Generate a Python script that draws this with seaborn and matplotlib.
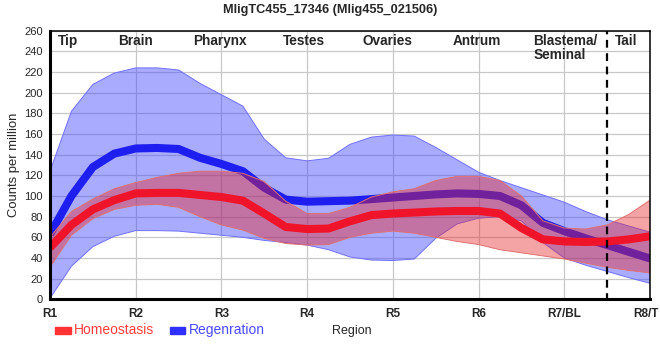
import numpy as np
import pandas as pd
import matplotlib
matplotlib.use("Agg")
import matplotlib.pyplot as plt
import matplotlib.transforms as mtransforms
from matplotlib.patches import Rectangle
import seaborn as sns

# ---- data ----
positions = [1.0, 1.25, 1.5, 1.75, 2.0, 2.25, 2.5, 2.75, 3.0, 3.25, 3.5, 3.75,
             4.0, 4.25, 4.5, 4.75, 5.0, 5.25, 5.5, 5.75, 6.0, 6.25, 6.5, 6.75,
             7.0, 7.25, 7.5, 7.75, 8.0]

homeostasis = [50, 72, 87, 96, 102.5, 103, 103, 101, 99, 95.5, 83, 70,
               68, 68.5, 75.5, 81.5, 83, 84, 85, 85.5, 85.5, 83, 69, 58,
               56, 55.5, 56, 58, 61]
homeo_upper = [60, 85, 97, 107, 113, 118, 122, 124, 124, 122, 114, 95,
               83, 83, 89, 99, 104, 107, 115, 119, 119, 115, 100, 76,
               69, 68, 72, 82, 96]
homeo_lower = [31, 62, 78, 87, 91, 92, 89, 80, 72, 67, 59, 54,
               52.5, 53, 60, 64, 66, 64, 60, 56, 53, 48, 45, 42,
               39, 35, 31, 28, 25.5]

regeneration = [63, 100, 128, 141, 146, 146.5, 145.5, 137, 131, 124, 108, 96.5,
                94.5, 95, 95.5, 97, 98.5, 100, 101.5, 102.5, 102, 100, 91, 74,
                66, 59, 52.5, 46, 39.5]
regen_upper = [124, 182, 208, 219, 224, 224, 222, 209, 198, 187, 155, 137,
               134, 136.5, 150, 157, 159, 158, 147, 135, 123, 115, 108, 101,
               94, 85, 77, 71, 65]
regen_lower = [1, 32, 51, 61, 66.5, 66.5, 66, 64, 62, 60, 57, 55,
               52.5, 48, 41, 38, 37.5, 39, 59, 73, 78.5, 80, 76, 55,
               40, 33, 27, 21, 15.5]

tick_pos = [1, 2, 3, 4, 5, 6, 7, 8]
tick_labels = ["R1", "R2", "R3", "R4", "R5", "R6", "R7/BL", "R8/T"]
region_names = ["Tip", "Brain", "Pharynx", "Testes", "Ovaries", "Antrum",
                "Blastema/\nSeminal", "Tail"]
region_pos = [1.21, 2.0, 2.98, 3.96, 4.94, 5.98, 6.64, 7.72]
region_ha = ["center"] * 6 + ["left", "center"]
tail_boundary = 7.5
y_ticks = list(range(0, 261, 20))
title = "MligTC455_17346 (Mlig455_021506)"

df = pd.DataFrame({
    "x": positions,
    "Homeostasis": homeostasis,
    "Regeneration": regeneration,
})

# ---- style ----
sns.set_style("white")
plt.rcParams["font.family"] = ["Liberation Sans", "DejaVu Sans"]

RED_LINE = "#f0142a"
BLUE_LINE = "#1e1ef0"
RED_FILL = (0.90, 0.15, 0.15)
BLUE_FILL = (0.25, 0.27, 1.0)

fig = plt.figure(figsize=(6.6, 3.6), dpi=100)
ax = fig.add_axes([50 / 660, 60.7 / 360, 600 / 660, 268.6 / 360])

# grid
for v in y_ticks:
    ax.axhline(v, color="#c8c8c8", lw=0.9, zorder=0)
for p in tick_pos:
    ax.axvline(p, color="#c8c8c8", lw=0.9, zorder=0)

# regeneration band + line
ax.fill_between(positions, regen_lower, regen_upper, facecolor=BLUE_FILL,
                alpha=0.45, edgecolor="none", zorder=1)
ax.plot(positions, regen_upper, color="#7070ff", lw=0.7, zorder=1.1)
ax.plot(positions, regen_lower, color="#7070ff", lw=0.7, zorder=1.1)
sns.lineplot(data=df, x="x", y="Regeneration", color=BLUE_LINE, lw=5.8,
             ax=ax, zorder=2, solid_capstyle="butt", solid_joinstyle="round")

# homeostasis band + line
ax.fill_between(positions, homeo_lower, homeo_upper, facecolor=RED_FILL,
                alpha=0.42, edgecolor="none", zorder=3)
ax.plot(positions, homeo_upper, color="#e07070", lw=0.7, zorder=3.1)
ax.plot(positions, homeo_lower, color="#e07070", lw=0.7, zorder=3.1)
sns.lineplot(data=df, x="x", y="Homeostasis", color=RED_LINE, lw=5.8,
             ax=ax, zorder=4, solid_capstyle="butt", solid_joinstyle="round")

# dashed boundary
ax.plot([tail_boundary, tail_boundary], [-2, 260], color="black", lw=1.6,
        ls=(0, (3.5, 2.5)), zorder=5, clip_on=False)

ax.set_xlim(1, 8)
ax.set_ylim(0, 260)
ax.set_xticks(tick_pos)
ax.set_xticklabels(tick_labels, fontsize=8.5, fontweight="bold")
ax.set_yticks(y_ticks)
ax.set_yticklabels([str(v) for v in y_ticks], fontsize=8)
ax.tick_params(axis="both", which="both", length=3, width=1, color="black",
               direction="out", pad=2)
ax.tick_params(axis="x", pad=3)
ax.set_xlabel("")
ax.set_ylabel("")

# keep the last tick label inside the figure
last = ax.get_xticklabels()[-1]
last.set_transform(last.get_transform() +
                   mtransforms.ScaledTranslation(-4 / 100, 0, fig.dpi_scale_trans))

for s in ["top", "right"]:
    ax.spines[s].set_linewidth(1.1)
    ax.spines[s].set_color("black")
for s in ["left", "bottom"]:
    ax.spines[s].set_linewidth(2.2)
    ax.spines[s].set_color("black")
for s in ax.spines.values():
    s.set_zorder(6)

# region labels inside the plot
for name, pos, ha in zip(region_names, region_pos, region_ha):
    ax.text(pos, 257, name, ha=ha, va="top", fontsize=9.8, fontweight="bold",
            linespacing=1.0, zorder=7)

# titles and axis labels
fig.text(330 / 660, 1 - 10 / 360, title, ha="center", va="center",
         fontsize=9.2, fontweight="bold")
fig.text(14 / 660, 1 - 165 / 360, "Counts per million", rotation=90,
         ha="center", va="center", fontsize=9.4)
fig.text(352 / 660, 1 - 331 / 360, "Region", ha="center", va="center",
         fontsize=9)

# legend
fig.patches.append(Rectangle((55 / 660, 1 - 334 / 360), 16 / 660, 7.5 / 360,
                             transform=fig.transFigure, color="#ff3333"))
fig.text(74 / 660, 1 - 330 / 360, "Homeostasis", ha="left", va="center",
         fontsize=10, color="#ff3d3d")
fig.patches.append(Rectangle((170 / 660, 1 - 334 / 360), 15 / 660, 7.5 / 360,
                             transform=fig.transFigure, color="#2f2fff"))
fig.text(189 / 660, 1 - 330 / 360, "Regenration", ha="left", va="center",
         fontsize=10, color="#4a4aff")

fig.savefig("out.png", dpi=100)
